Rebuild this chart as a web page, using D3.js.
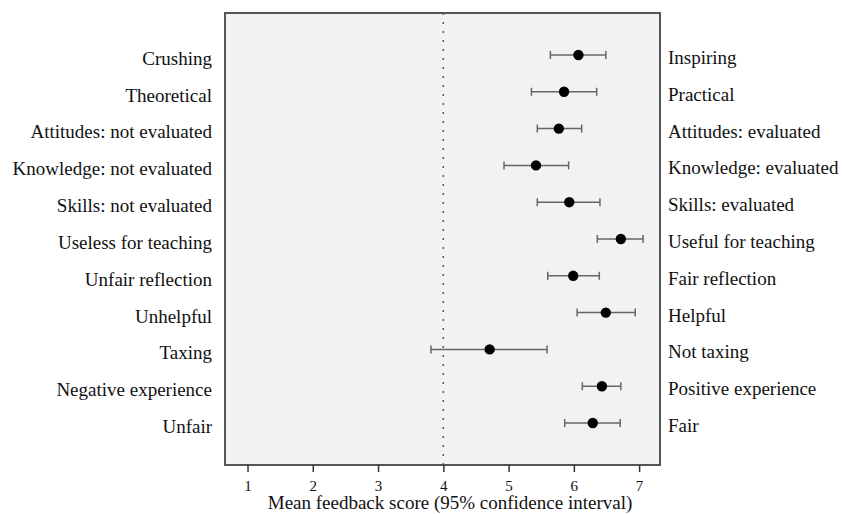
<!DOCTYPE html>
<html>
<head>
<meta charset="utf-8">
<script src="https://cdn.jsdelivr.net/npm/d3@7"></script>
<style>
  body { margin: 0; background: #fff; }
  text { font-family: "Liberation Serif", "DejaVu Serif", serif; fill: #111; }
</style>
</head>
<body>
<svg></svg>
<script>
const width = 842;
const height = 514;

// items, top to bottom
const leftLabels = ["Crushing", "Theoretical", "Attitudes: not evaluated", "Knowledge: not evaluated",
    "Skills: not evaluated", "Useless for teaching", "Unfair reflection", "Unhelpful", "Taxing",
    "Negative experience", "Unfair"];
const rightLabels = ["Inspiring", "Practical", "Attitudes: evaluated", "Knowledge: evaluated",
    "Skills: evaluated", "Useful for teaching", "Fair reflection", "Helpful", "Not taxing",
    "Positive experience", "Fair"];
const means = [6.07, 5.85, 5.77, 5.42, 5.93, 6.72, 5.99, 6.49, 4.71, 6.43, 6.29];
const lower = [5.64, 5.35, 5.44, 4.93, 5.44, 6.36, 5.60, 6.05, 3.81, 6.13, 5.86];
const upper = [6.49, 6.35, 6.12, 5.92, 6.40, 7.06, 6.39, 6.94, 5.59, 6.72, 6.71];
const xTicks = [1, 2, 3, 4, 5, 6, 7];
const midpoint = 4;

const box = { left: 225, right: 660, top: 13, bottom: 465 };

const svg = d3.select("svg")
    .attr("width", width)
    .attr("height", height);

const x = d3.scaleLinear().domain([0.655, 7.32]).range([box.left, box.right]);
const y = d3.scalePoint().domain(d3.range(means.length)).range([box.top, box.bottom]).padding(1.14);

svg.append("rect")
    .attr("x", box.left).attr("y", box.top)
    .attr("width", box.right - box.left).attr("height", box.bottom - box.top)
    .attr("fill", "#f2f2f2");

// reference line at the neutral score
svg.append("line")
    .attr("x1", x(midpoint)).attr("x2", x(midpoint))
    .attr("y1", box.top).attr("y2", box.bottom)
    .attr("stroke", "#555").attr("stroke-width", 1.5)
    .attr("stroke-dasharray", "2,7");

const rows = svg.selectAll(".row")
    .data(means)
    .enter().append("g")
    .attr("class", "row")
    .attr("transform", (d, i) => `translate(0,${y(i)})`);

rows.append("line")
    .attr("x1", (d, i) => x(lower[i])).attr("x2", (d, i) => x(upper[i]))
    .attr("stroke", "#666").attr("stroke-width", 1.5);

rows.append("line")
    .attr("x1", (d, i) => x(lower[i])).attr("x2", (d, i) => x(lower[i]))
    .attr("y1", -4).attr("y2", 4)
    .attr("stroke", "#666").attr("stroke-width", 1.5);

rows.append("line")
    .attr("x1", (d, i) => x(upper[i])).attr("x2", (d, i) => x(upper[i]))
    .attr("y1", -4).attr("y2", 4)
    .attr("stroke", "#666").attr("stroke-width", 1.5);

rows.append("circle")
    .attr("cx", d => x(d))
    .attr("r", 5.2)
    .attr("fill", "#000");

rows.append("text")
    .attr("x", 212).attr("dy", "0.52em")
    .attr("text-anchor", "end")
    .style("font-size", "19px")
    .text((d, i) => leftLabels[i]);

rows.append("text")
    .attr("x", 668).attr("dy", "0.47em")
    .style("font-size", "19px")
    .text((d, i) => rightLabels[i]);

svg.append("rect")
    .attr("x", box.left).attr("y", box.top)
    .attr("width", box.right - box.left).attr("height", box.bottom - box.top)
    .attr("fill", "none")
    .attr("stroke", "#555").attr("stroke-width", 2);

const xAxis = svg.append("g")
    .attr("transform", `translate(0,${box.bottom})`)
    .call(d3.axisBottom(x).tickValues(xTicks).tickFormat(d3.format("d"))
        .tickSize(7).tickSizeOuter(0).tickPadding(8));
xAxis.select(".domain").remove();
xAxis.selectAll(".tick line").attr("stroke", "#333").attr("stroke-width", 1.5);
xAxis.selectAll(".tick text")
    .style("font-family", '"Liberation Serif", serif')
    .style("font-size", "15px")
    .attr("fill", "#111");

svg.append("text")
    .attr("x", 450).attr("y", 509)
    .attr("text-anchor", "middle")
    .style("font-size", "19px")
    .text("Mean feedback score (95% confidence interval)");
</script>
</body>
</html>
